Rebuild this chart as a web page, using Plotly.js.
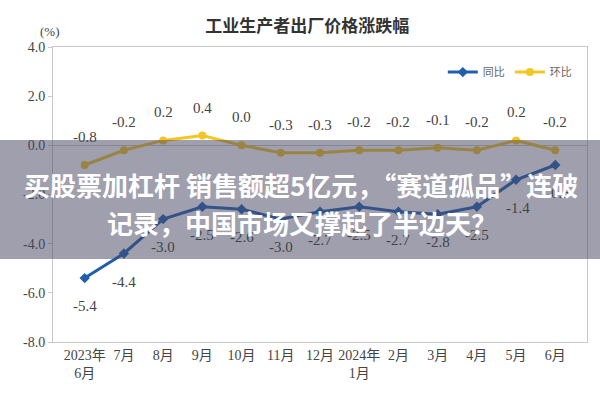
<!DOCTYPE html>
<html><head><meta charset="utf-8">
<script src="https://cdn.plot.ly/plotly-3.0.1.min.js"></script>
<style>html,body{margin:0;padding:0;background:#fff}#c{width:600px;height:400px}</style>
</head><body><div id="c"></div>
<script>
const months = ['2023年<br>6月','7月','8月','9月','10月','11月','12月','2024年<br>1月','2月','3月','4月','5月','6月'];
const yoy = [-5.4,-4.4,-3.0,-2.5,-2.6,-3.0,-2.7,-2.5,-2.7,-2.8,-2.5,-1.4,-0.8];
const mom = [-0.8,-0.2,0.2,0.4,0.0,-0.3,-0.3,-0.2,-0.2,-0.1,-0.2,0.2,-0.2];
const yTickVals = [4,2,0,-2,-4,-6,-8];
const yTickText = ['4.0','2.0','0.0','-2.0','-4.0','-6.0','-8.0'];
const titleText = '工业生产者出厂价格涨跌幅';
const overlayLine1 = '买股票加杠杆 销售额超5亿元，“赛道孤品”连破';
const overlayLine2 = '记录，中国市场又撑起了半边天？';

const blue = '#1f5fae', yellow = '#f3c623';
const numFont = {family:'Liberation Serif, Noto Sans CJK SC', size:15, color:'#444'};
const fmt = v => v.toFixed(1);

const ann = [];
months.forEach((m,i)=>{
  ann.push({x:m, y:mom[i], xref:'x', yref:'y', text:fmt(mom[i]), showarrow:false, yshift:28, font:numFont});
  let xs = 0;
  if (i===11) xs = 2;
  if (i===12) xs = 3;
  ann.push({x:m, y:yoy[i], xref:'x', yref:'y', text:fmt(yoy[i]), showarrow:false, yshift:-28, xshift:xs, font:numFont});
});
ann.push({xref:'paper', yref:'paper', x:-0.028, y:1.085, text:'(%)', showarrow:false, font:{family:'Liberation Serif', size:13, color:'#444'}});
ann.push({xref:'paper', yref:'paper', x:0.465, y:0.535, xanchor:'center', yanchor:'middle', text:overlayLine1, showarrow:false, font:{family:'Noto Sans CJK SC', size:26, color:'#ffffff', weight:700}});
ann.push({xref:'paper', yref:'paper', x:0.467, y:0.405, xanchor:'center', yanchor:'middle', text:overlayLine2, showarrow:false, font:{family:'Noto Sans CJK SC', size:26, color:'#ffffff', weight:700}});

const traces = [
  {x:months, y:yoy, name:'同比', type:'scatter', mode:'lines+markers', line:{color:blue, width:3}, marker:{symbol:'diamond', size:8, color:blue}},
  {x:months, y:mom, name:'环比', type:'scatter', mode:'lines+markers', line:{color:yellow, width:3}, marker:{symbol:'circle', size:8, color:yellow}}
];

const layout = {
  width:600, height:400,
  margin:{l:53, r:13, t:47, b:58},
  paper_bgcolor:'#fff', plot_bgcolor:'#fff',
  title:{text:titleText, x:0.512, xanchor:'center', y:0.935, yanchor:'middle', font:{family:'Noto Sans CJK SC', size:17, color:'#333', weight:700}},
  showlegend:true,
  legend:{orientation:'h', x:0.73, y:0.915, xanchor:'left', yanchor:'middle', font:{family:'Noto Sans CJK SC', size:11, color:'#666'}, bgcolor:'rgba(0,0,0,0)', itemwidth:30, tracegroupgap:0},
  xaxis:{type:'category', showgrid:false, showline:true, mirror:true, linecolor:'#c8c8c8', linewidth:1, ticks:'', tickfont:{family:'Liberation Serif, Noto Sans CJK SC', size:14, color:'#444'}, zeroline:false, fixedrange:true},
  yaxis:{range:[-8,4], tickvals:yTickVals, ticktext:yTickText, showgrid:false, showline:true, mirror:true, linecolor:'#c8c8c8', linewidth:1, ticks:'outside', ticklen:4, tickcolor:'#c8c8c8', tickfont:{family:'Liberation Serif', size:14, color:'#444'}, zeroline:true, zerolinecolor:'#c8c8c8', zerolinewidth:1},
  annotations:ann,
  shapes:[{type:'rect', xref:'paper', yref:'paper', x0:-0.2, x1:1.2, y0:0.2814, y1:0.6847, fillcolor:'rgba(70,70,100,0.52)', line:{width:0}, layer:'above'}]
};
Plotly.newPlot('c', traces, layout, {displayModeBar:false, staticPlot:true});
</script></body></html>
